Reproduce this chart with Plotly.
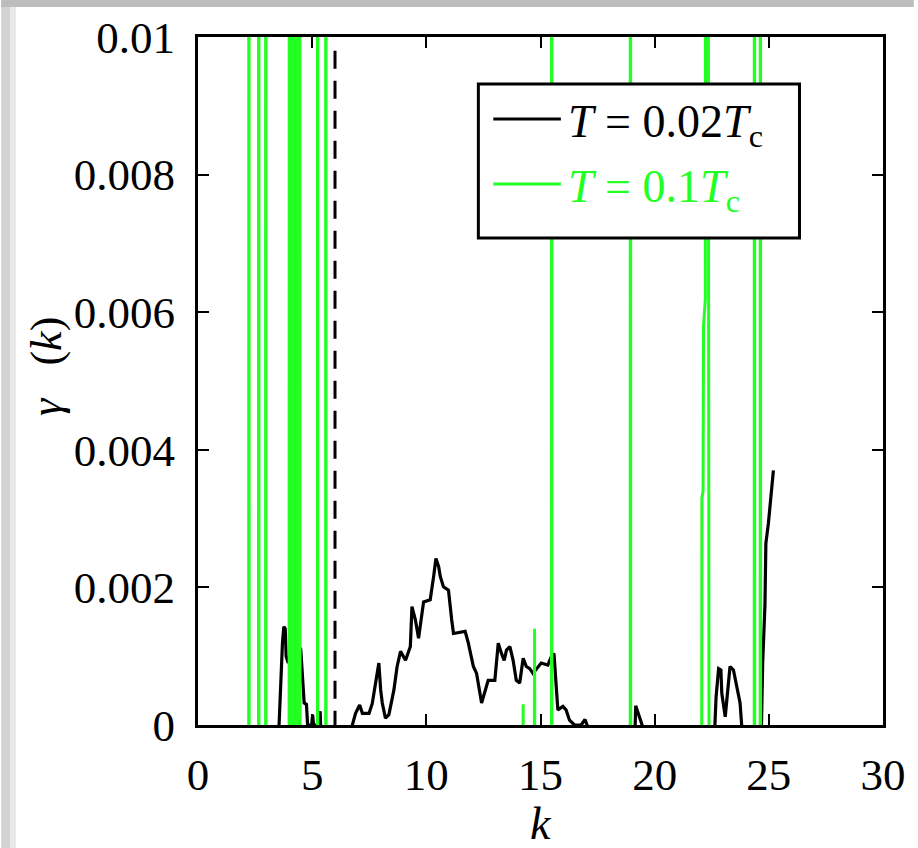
import plotly.graph_objects as go

# ---------------- data ----------------
# T = 0.02 Tc  (black curve)
black_k = [0.0, 3.50, 3.55, 3.58, 3.62, 3.66, 3.70, 3.76, 3.82, 3.86, 3.95, 4.10, 4.30, 4.50, 4.57,
           4.65, 4.75, 4.80, 4.98, 5.02, 5.06, 5.30, 5.35, 5.40,
           6.70, 6.76, 6.90, 7.08, 7.20, 7.49, 7.63, 7.85, 7.92, 8.00, 8.07, 8.21, 8.36, 8.58, 8.72,
           8.87, 9.09, 9.30, 9.37, 9.52, 9.66, 9.88, 10.17, 10.32, 10.42, 10.54, 10.61, 10.75, 10.97,
           11.11, 11.19, 11.70, 11.84, 12.06, 12.20, 12.42, 12.57, 12.71, 13.00, 13.15, 13.29, 13.41,
           13.51, 13.66, 13.80, 13.94, 14.09, 14.24, 14.38, 14.53, 14.67, 14.89, 15.03, 15.32, 15.47,
           15.59, 15.69, 15.76, 15.98, 16.12, 16.27, 16.49, 16.78, 16.95, 17.04, 17.10,
           19.12, 19.17, 19.25, 19.35, 19.45, 19.50,
           22.60, 22.69, 22.80, 22.90, 22.94, 23.09, 23.16, 23.30, 23.45, 23.60, 23.74, 23.81, 23.85,
           24.66, 24.68, 24.73, 24.83, 24.87, 24.98, 25.08, 25.19, 25.20]
black_gamma = [-0.0005, -0.0001, 0.0, 0.00027, 0.00065, 0.00105, 0.0012, 0.00143, 0.0014, 0.0010, 0.0009,
               0.0011, 0.0012, 0.0011, 0.00065, 0.00032, 0.0003, 0.0, 0.0, 0.00015, 0.0, 0.0, 0.0002,
               -0.0003,
               -0.0003, 0.0, 0.00017, 0.00029, 0.00017, 0.00017, 0.00031, 0.00072, 0.0009, 0.00051,
               0.00032, 0.0001, 0.00015, 0.00051, 0.00085, 0.00107, 0.00094, 0.00114, 0.00172, 0.00153,
               0.00126, 0.00179, 0.00182, 0.00216, 0.00242, 0.0023, 0.00216, 0.00201, 0.00196, 0.00153,
               0.00133, 0.00136, 0.00119, 0.00085, 0.00075, 0.00032, 0.00051, 0.00065, 0.00065, 0.00119,
               0.00104, 0.00094, 0.00109, 0.00114, 0.00094, 0.00065, 0.00061, 0.00097, 0.00085, 0.00082,
               0.00075, 0.00085, 0.0009, 0.00087, 0.00099, 0.00104, 0.00046, 0.00022, 0.00027, 0.00022,
               0.00007, 0.0, 0.0, 0.00008, 0.0, -0.0005,
               -0.0003, 0.00028, 0.0002, 0.00008, 0.0, -0.0005,
               -0.0003, 0.00041, 0.00082, 0.0008, 0.00046, 0.00012, 0.00036, 0.00085, 0.0008, 0.00056,
               0.00032, 0.0, -0.0005,
               -0.0003, 0.0, 0.0009, 0.00174, 0.00264, 0.00293, 0.0033, 0.00368, 0.0037]

# T = 0.1 Tc  (green curve, spikes run far off scale)
green_k = [0.0,
           2.22, 2.23, 2.24,
           2.65, 2.66, 2.67,
           2.96, 2.97, 2.98,
           3.99, 4.01, 4.03, 4.05, 4.07, 4.09, 4.11, 4.13, 4.15, 4.17, 4.19, 4.21, 4.23, 4.25,
           4.27, 4.29, 4.31, 4.33, 4.35, 4.37, 4.39, 4.41, 4.43, 4.45, 4.47,
           5.23, 5.24, 5.25,
           5.59, 5.60, 5.61,
           14.23, 14.24, 14.25,
           14.73, 14.74, 14.75,
           15.48, 15.49, 15.50,
           18.93, 18.94, 18.95,
           22.06, 22.07, 22.12, 22.14, 22.22, 22.25, 22.38,
           24.36, 24.37, 24.38,
           24.62, 24.63, 24.64,
           30.0]
green_gamma = [-0.0005,
               -0.0005, 0.05, -0.0005,
               -0.0005, 0.05, -0.0005,
               -0.0005, 0.05, -0.0005,
               -0.0005, 0.05, -0.0005, 0.05, -0.0005, 0.05, -0.0005, 0.05, -0.0005, 0.05, -0.0005,
               0.05, -0.0005, 0.05, -0.0005, 0.05, -0.0005, 0.05, -0.0005, 0.05, -0.0005, 0.05,
               -0.0005, 0.05, -0.0005,
               -0.0005, 0.05, -0.0005,
               -0.0005, 0.05, -0.0005,
               -0.0005, 0.0003, -0.0005,
               -0.0005, 0.0014, -0.0005,
               -0.0005, 0.05, -0.0005,
               -0.0005, 0.05, -0.0005,
               -0.0005, 0.0033, 0.0034, 0.0058, 0.0062, 0.05, -0.0005,
               -0.0005, 0.05, -0.0005,
               -0.0005, 0.05, -0.0005,
               -0.0005]

# dashed marker line
dashed_k = [6.0, 6.0]
dashed_gamma = [0.0098, 0.0]

x_ticks = [0, 5, 10, 15, 20, 25, 30]
x_labels = ["0", "5", "10", "15", "20", "25", "30"]
y_ticks = [0, 0.002, 0.004, 0.006, 0.008, 0.01]
y_labels = ["0", "0.002", "0.004", "0.006", "0.008", "0.01"]

series_names = ["<i>T</i> = 0.02<i>T</i><sub>c</sub>", "<i>T</i> = 0.1<i>T</i><sub>c</sub>"]
series_colors = ["#000000", "#22ff22"]

# ---------------- figure ----------------
FONT = "Liberation Serif, Times New Roman, serif"
W, H = 918, 848
L, R, T, B = 198, 31, 37, 123
PW, PH = W - L - R, H - T - B


def px_x(px):
    return (px - L) / PW


def px_y(py):
    return (H - B - py) / PH


fig = go.Figure()
fig.add_trace(go.Scatter(x=black_k, y=black_gamma, mode="lines", name=series_names[0],
                         line=dict(color=series_colors[0], width=3.2), showlegend=False))
fig.add_trace(go.Scatter(x=green_k, y=green_gamma, mode="lines", name=series_names[1],
                         line=dict(color=series_colors[1], width=3), showlegend=False))
fig.add_trace(go.Scatter(x=dashed_k, y=dashed_gamma, mode="lines",
                         line=dict(color="black", width=3, dash="18px,12px"), showlegend=False))

axis_common = dict(
    showline=True, linewidth=3, linecolor="black", mirror="ticks",
    ticks="inside", ticklen=11, tickwidth=2, tickcolor="black",
    showgrid=False, zeroline=False,
    tickfont=dict(family=FONT, size=45, color="black"),
)
fig.update_xaxes(range=[0, 30], tickvals=x_ticks, ticktext=x_labels, ticklabelstandoff=8, **axis_common)
fig.update_yaxes(range=[0, 0.01], tickvals=y_ticks, ticktext=y_labels, ticklabelstandoff=11, **axis_common)

shapes = [
    # screenshot-like gray edges
    dict(type="rect", xref="paper", yref="paper", x0=px_x(0), x1=px_x(9), y0=px_y(H), y1=px_y(0),
         fillcolor="#d3d3d3", line=dict(width=0), layer="below"),
    dict(type="rect", xref="paper", yref="paper", x0=px_x(9), x1=px_x(15), y0=px_y(H), y1=px_y(0),
         fillcolor="#e8e8e8", line=dict(width=0), layer="below"),
    dict(type="rect", xref="paper", yref="paper", x0=px_x(0), x1=px_x(W), y0=px_y(7), y1=px_y(0),
         fillcolor="#bdbdbd", line=dict(width=0), layer="below"),
    # legend box
    dict(type="rect", xref="paper", yref="paper", x0=px_x(480), x1=px_x(803), y0=px_y(238), y1=px_y(84),
         fillcolor="white", line=dict(color="black", width=3), layer="above"),
    dict(type="line", xref="paper", yref="paper", x0=px_x(495), x1=px_x(563), y0=px_y(119), y1=px_y(119),
         line=dict(color=series_colors[0], width=3), layer="above"),
    dict(type="line", xref="paper", yref="paper", x0=px_x(495), x1=px_x(563), y0=px_y(184), y1=px_y(184),
         line=dict(color=series_colors[1], width=3), layer="above"),
]

annotations = [
    dict(xref="paper", yref="paper", x=px_x(568), y=px_y(125), xanchor="left", yanchor="middle",
         text=series_names[0], showarrow=False, font=dict(family=FONT, size=46, color=series_colors[0])),
    dict(xref="paper", yref="paper", x=px_x(568), y=px_y(190), xanchor="left", yanchor="middle",
         text=series_names[1], showarrow=False, font=dict(family=FONT, size=46, color=series_colors[1])),
    dict(xref="paper", yref="paper", x=px_x(543), y=px_y(823), xanchor="center", yanchor="middle",
         text="<i>k</i>", showarrow=False, font=dict(family=FONT, size=46, color="black")),
    dict(xref="paper", yref="paper", x=px_x(45), y=px_y(366), xanchor="center", yanchor="middle",
         text="<i>γ</i>\u00a0\u00a0\u00a0(<i>k</i>)", textangle=-90, showarrow=False,
         font=dict(family=FONT, size=44, color="black")),
]

fig.update_layout(
    width=W, height=H,
    margin=dict(l=L, r=R, t=T, b=B, pad=0),
    paper_bgcolor="white", plot_bgcolor="white",
    shapes=shapes, annotations=annotations, showlegend=False,
)

fig.write_html("out.html", config={"displayModeBar": False},
               post_script="document.body.style.margin='0px';document.body.style.overflow='hidden';")
